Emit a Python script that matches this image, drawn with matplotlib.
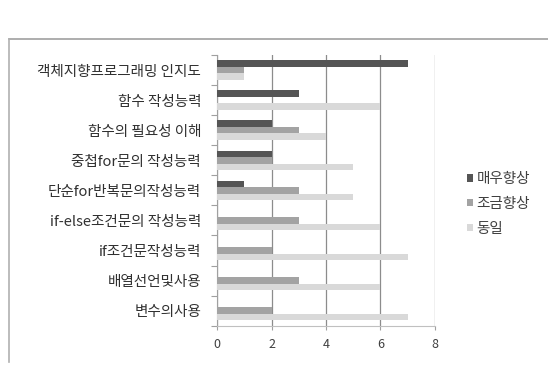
import numpy as np
import matplotlib
matplotlib.use("Agg")
import matplotlib.pyplot as plt
from matplotlib.lines import Line2D

plt.rcParams['font.family'] = ['Noto Sans CJK KR', 'DejaVu Sans']

categories = ["객체지향프로그래밍 인지도", "함수 작성능력", "함수의 필요성 이해",
              "중첩for문의 작성능력", "단순for반복문의작성능력", "if-else조건문의 작성능력",
              "if조건문작성능력", "배열선언및사용", "변수의사용"]
series_names = ["매우향상", "조금향상", "동일"]
much_better = [7, 3, 2, 2, 1, 0, 0, 0, 0]
bit_better = [1, 0, 3, 2, 3, 3, 2, 3, 2]
same = [1, 6, 4, 5, 5, 6, 7, 6, 7]
xticks = [0, 2, 4, 6, 8]

colors = ["#555555", "#a3a3a3", "#d9d9d9"]

fig = plt.figure(figsize=(5.48, 3.76), dpi=100)
ax = fig.add_axes([217 / 548, 1 - 325.7 / 376, 218 / 548, 270.7 / 376])

y = np.arange(len(categories))
h = 0.215
for i, (vals, name) in enumerate(zip([much_better, bit_better, same], series_names)):
    ax.barh(y + (i - 1) * h, vals, height=h, color=colors[i], label=name, zorder=3)

ax.set_xlim(0, 8)
ax.set_ylim(len(categories) - 0.5, -0.5)
ax.set_xticks(xticks)
ax.set_xticklabels([str(t) for t in xticks], fontsize=9, color="#404040")
ax.tick_params(axis="x", length=3, color="#a0a0a0", pad=6)

# boundary ticks on the left, labels at the category centres
ax.set_yticks(np.arange(-0.5, len(categories), 1))
ax.set_yticklabels([])
ax.set_yticks(y, minor=True)
ax.set_yticklabels(categories, minor=True, fontsize=10.5, color="#303030")
ax.tick_params(axis="y", which="major", length=4, color="#a0a0a0")
ax.tick_params(axis="y", which="minor", length=0, pad=11.5)

ax.grid(axis="x", color="#8c8c8c", linewidth=0.9, zorder=0)
for s in ["top", "right"]:
    ax.spines[s].set_visible(False)
ax.spines["left"].set_color("#a0a0a0")
ax.spines["bottom"].set_color("#c0c0c0")

leg = fig.legend(loc="upper left", bbox_to_anchor=(461 / 548, 1 - 166 / 376),
                 frameon=False, fontsize=10.5, handlelength=0.45, handleheight=0.45,
                 handletextpad=0.2, labelspacing=0.75, borderaxespad=0)
for t in leg.get_texts():
    t.set_color("#404040")

# chart frame: top and left edges only
fig.add_artist(Line2D([9 / 548, 1], [1 - 39 / 376, 1 - 39 / 376], color="#a0a0a0", linewidth=1.2))
fig.add_artist(Line2D([9 / 548, 9 / 548], [1 - 39 / 376, 1 - 362 / 376], color="#b0b0b0", linewidth=1.2))

fig.savefig("out.png", dpi=100)
